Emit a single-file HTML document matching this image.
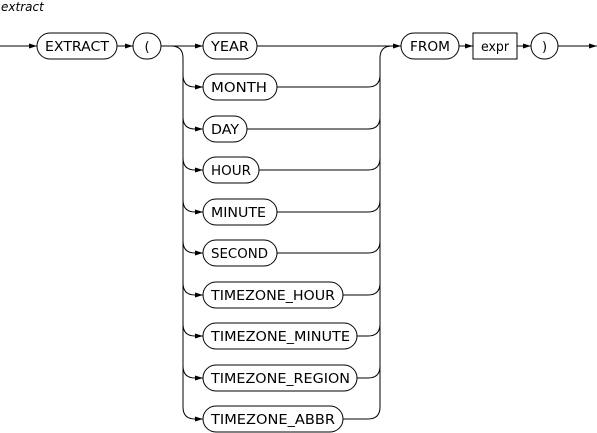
<!DOCTYPE html>
<html><head><meta charset="utf-8"><style>
body{margin:0;background:#fff}
svg{display:block}
text{font-family:"DejaVu Sans","Liberation Sans",sans-serif;font-size:13px;fill:#000}
.l{fill:none;stroke:#000;stroke-width:1}
.b{fill:#fff;stroke:#000;stroke-width:1}
</style></head><body>
<svg width="597" height="433" viewBox="0 0 597 433">
<defs><marker id="a" markerWidth="8" markerHeight="6" refX="8" refY="3" orient="auto" markerUnits="userSpaceOnUse"><path d="M0,0.5 L8,3 L0,5.5z"/></marker></defs>
<text x="1" y="11" style="font-style:italic;font-size:12px">extract</text>
<path class="l" d="M0,46 H37" marker-end="url(#a)"/>
<path class="l" d="M117,46 H133" marker-end="url(#a)"/>
<path class="l" d="M161,46 H203" marker-end="url(#a)"/>
<path class="l" d="M257,46 H401" marker-end="url(#a)"/>
<path class="l" d="M459,46 H473" marker-end="url(#a)"/>
<path class="l" d="M517,46 H531" marker-end="url(#a)"/>
<path class="l" d="M558,46 H597" marker-end="url(#a)"/>
<path class="l" d="M171,46 Q183,46 183,58 V407"/>
<path class="l" d="M380,407 V58 Q380,46 392,46"/>
<g class="l">
<path d="M183,75 Q183,87 195,87 H203" marker-end="url(#a)"/><path d="M277,87 H368 Q380,87 380,75"/>
<path d="M183,117 Q183,129 195,129 H203" marker-end="url(#a)"/><path d="M247,129 H368 Q380,129 380,117"/>
<path d="M183,158 Q183,170 195,170 H203" marker-end="url(#a)"/><path d="M259,170 H368 Q380,170 380,158"/>
<path d="M183,200 Q183,212 195,212 H203" marker-end="url(#a)"/><path d="M277,212 H368 Q380,212 380,200"/>
<path d="M183,241 Q183,253 195,253 H203" marker-end="url(#a)"/><path d="M277,253 H368 Q380,253 380,241"/>
<path d="M183,283 Q183,295 195,295 H203" marker-end="url(#a)"/><path d="M343,295 H368 Q380,295 380,283"/>
<path d="M183,324 Q183,336 195,336 H203" marker-end="url(#a)"/><path d="M357,336 H368 Q380,336 380,324"/>
<path d="M183,366 Q183,378 195,378 H203" marker-end="url(#a)"/><path d="M357,378 H368 Q380,378 380,366"/>
<path d="M183,407 Q183,419 195,419 H203" marker-end="url(#a)"/><path d="M343,419 H368 Q380,419 380,407"/>
</g>
<rect class="b" x="37" y="33" width="80" height="26" rx="13"/><text x="45" y="51" textLength="64" lengthAdjust="spacingAndGlyphs">EXTRACT</text>
<rect class="b" x="133" y="33" width="28" height="26" rx="13"/><text x="147" y="51" text-anchor="middle">(</text>
<rect class="b" x="401" y="33" width="58" height="26" rx="13"/><text x="410" y="51" textLength="40" lengthAdjust="spacingAndGlyphs">FROM</text>
<rect class="b" x="473" y="33" width="44" height="26"/><text x="481" y="51" textLength="28" lengthAdjust="spacingAndGlyphs">expr</text>
<rect class="b" x="531" y="33" width="27" height="26" rx="13"/><text x="544.5" y="51" text-anchor="middle">)</text>
<rect class="b" x="203" y="33" width="54" height="26" rx="13"/><text x="211" y="51" textLength="38" lengthAdjust="spacingAndGlyphs">YEAR</text>
<rect class="b" x="203" y="74" width="74" height="26" rx="13"/><text x="211" y="92" textLength="56" lengthAdjust="spacingAndGlyphs">MONTH</text>
<rect class="b" x="203" y="116" width="44" height="26" rx="13"/><text x="211" y="134" textLength="28" lengthAdjust="spacingAndGlyphs">DAY</text>
<rect class="b" x="203" y="157" width="56" height="26" rx="13"/><text x="211" y="175" textLength="40" lengthAdjust="spacingAndGlyphs">HOUR</text>
<rect class="b" x="203" y="199" width="74" height="26" rx="13"/><text x="211" y="217" textLength="55" lengthAdjust="spacingAndGlyphs">MINUTE</text>
<rect class="b" x="203" y="240" width="74" height="26" rx="13"/><text x="211" y="258" textLength="57" lengthAdjust="spacingAndGlyphs">SECOND</text>
<rect class="b" x="203" y="282" width="140" height="26" rx="13"/><text x="211" y="300" textLength="124" lengthAdjust="spacingAndGlyphs">TIMEZONE_HOUR</text>
<rect class="b" x="203" y="323" width="154" height="26" rx="13"/><text x="211" y="341" textLength="139" lengthAdjust="spacingAndGlyphs">TIMEZONE_MINUTE</text>
<rect class="b" x="203" y="365" width="154" height="26" rx="13"/><text x="211" y="383" textLength="139" lengthAdjust="spacingAndGlyphs">TIMEZONE_REGION</text>
<rect class="b" x="203" y="406" width="140" height="26" rx="13"/><text x="211" y="424" textLength="124" lengthAdjust="spacingAndGlyphs">TIMEZONE_ABBR</text>
</svg>
</body></html>
